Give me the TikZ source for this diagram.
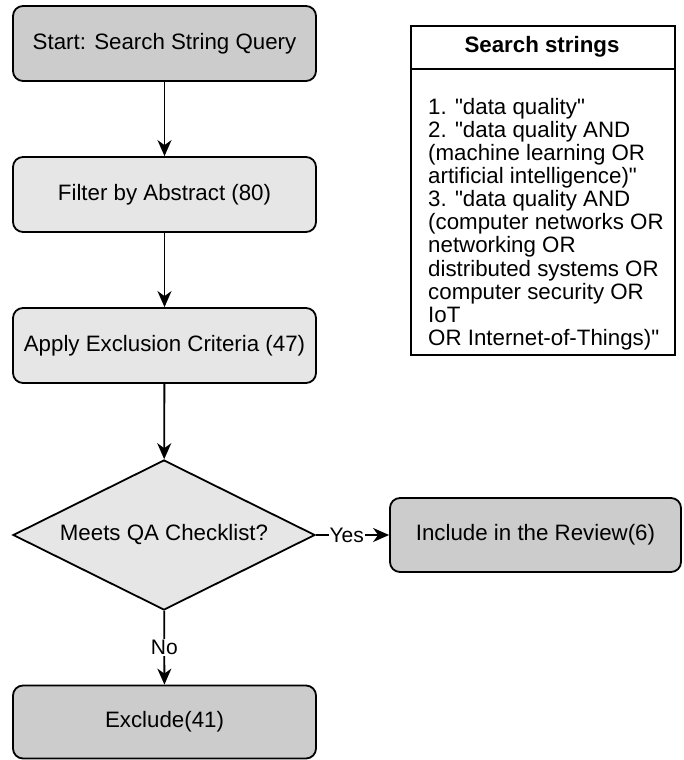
\documentclass[tikz,border=0pt]{standalone}
\usepackage{fontspec}
\setmainfont{Liberation Sans}[Ligatures=TeXOff]
\usetikzlibrary{shapes.geometric,arrows.meta}
\definecolor{dk}{HTML}{CCCCCC}
\definecolor{lt}{HTML}{E6E6E6}
\newcommand{\mainfs}{\fontsize{22.3}{23.1}\selectfont}
\newcommand{\lblfs}{\fontsize{21}{22}\selectfont}
\begin{document}
\begin{tikzpicture}[x=1pt,y=-1pt,
  box/.style={draw, line width=1.8pt, rounded corners=10pt, minimum width=303pt,
              minimum height=75pt, inner sep=0pt, font=\mainfs},
  darkbox/.style={box, fill=dk},
  lightbox/.style={box, fill=lt},
  decision/.style={draw, line width=1.8pt, diamond, shape aspect=2, fill=lt,
              minimum width=302pt, minimum height=150pt, inner sep=0pt, font=\mainfs},
  arr/.style={draw, line width=1.8pt, -{Stealth[length=16pt,width=14pt,inset=5pt]}},
  lbl/.style={fill=white, inner sep=1pt, font=\lblfs}]
\useasboundingbox (0,0) rectangle (683,760);

\node[darkbox] (start) at (164.5,43.5) {Start: Search String Query};
\node[lightbox] (filter) at (164.5,194.5) {Filter by Abstract (80)};
\node[lightbox] (apply) at (164.5,345.5) {Apply Exclusion Criteria (47)};
\node[decision] (qa) at (164,535) {Meets QA Checklist?};
\node[darkbox, minimum width=291pt, minimum height=74pt] (include) at (535.5,535) {Include in the Review(6)};
\node[darkbox, minimum height=73pt] (exclude) at (164.5,722) {Exclude(41)};

\draw[arr] (start) -- (filter);
\draw[arr] (filter) -- (apply);
\draw[arr] (apply) -- (qa);
\draw[arr] (qa) -- node[lbl, pos=0.42] {Yes} (include);
\draw[arr] (qa) -- node[lbl, pos=0.5] {No} (exclude);

\node[draw, line width=1.8pt, minimum width=264pt, minimum height=329pt, inner sep=0pt,
      anchor=north west] (sbox) at (410,25) {};
\draw[line width=1.8pt] ([yshift=-44pt]sbox.north west) -- ([yshift=-44pt]sbox.north east);
\node[font=\mainfs\bfseries] (stitle) at (542,47) {Search strings};
\node[anchor=north west, align=left, inner sep=0pt, font=\mainfs] (slist) at (428,98)
{1. "data quality"\\
2. "data quality AND\\
(machine learning OR\\
artificial intelligence)"\\
3. "data quality AND\\
(computer networks OR\\
networking OR\\
distributed systems OR\\
computer security OR\\
IoT\\
OR Internet-of-Things)"};
\end{tikzpicture}
\end{document}
